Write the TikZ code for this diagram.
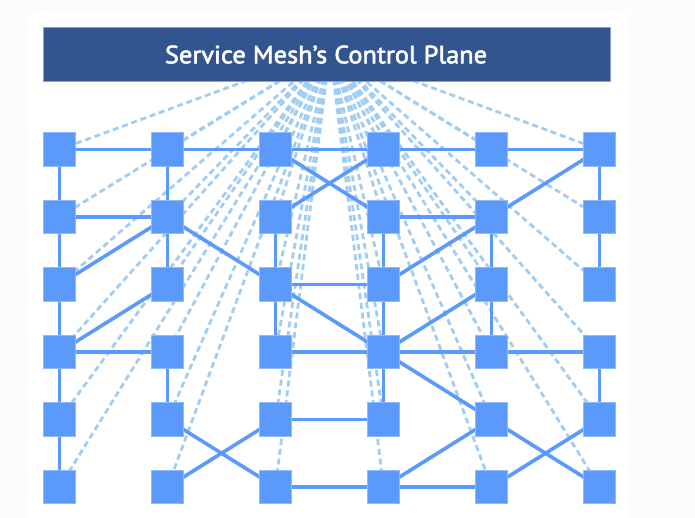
\documentclass[tikz,border=0pt]{standalone}
\usepackage{fontspec}
\setmainfont{PT Sans}
\newfontfamily\cpfont{PT Sans}
\usetikzlibrary{backgrounds}
\pgfdeclarelayer{page}
\pgfsetlayers{page,background,main}
\definecolor{sqblue}{HTML}{5B9AFB}
\definecolor{sqedge}{HTML}{8DB9FF}
\definecolor{dashblue}{HTML}{A2CDF2}
\definecolor{cpblue}{HTML}{32548F}
\definecolor{cpedge}{HTML}{8CA3C9}
\definecolor{pagegray}{HTML}{FCFCFC}
\newcommand{\heavytext}[1]{\special{pdf:literal direct 2 Tr 0.55 w 1 1 1 RG}#1\special{pdf:literal direct 0 Tr}}
\tikzset{
  sqnode/.style={draw=sqedge, line width=0.7pt, fill=sqblue, minimum width=32pt, minimum height=33.5pt, inner sep=0pt},
  link/.style={draw=sqblue, line width=3.6pt},
  ctrl/.style={draw=dashblue, line width=2.8pt, dash pattern=on 6pt off 3.8pt},
  cpbox/.style={draw=cpedge, line width=0.8pt, fill=cpblue, minimum width=567pt, minimum height=54pt, inner sep=0pt},
  cptext/.style={text=white, font=\cpfont\fontsize{25}{30}\selectfont, inner sep=0pt, anchor=base}
}
\begin{document}
\begin{tikzpicture}[x=1pt, y=-1pt]
\useasboundingbox (0,0) rectangle (695,518);
\begin{pgfonlayer}{page}
\fill[pagegray] (0,0) rectangle (695,518);
\fill[white] (30,14) rectangle (630,518);
\end{pgfonlayer}
% squares
\foreach \i in {1,...,6} {
  \foreach \j in {1,...,6} {
    \node[sqnode] (n\i\j) at ({59.5+108*(\i-1)},{149.5+67.5*(\j-1)}) {};
  }
}
\coordinate (cp) at (330,50);
\begin{pgfonlayer}{background}
  \foreach \i in {1,...,6} {
    \foreach \j in {1,...,6} {
      \draw[ctrl] (cp) -- (n\i\j.center);
    }
  }
  % top row
  \draw[link] (n11.center) -- (n21.center) -- (n31.center) -- (n41.center) -- (n51.center) -- (n61.center);
  % verticals
  \draw[link] (n11.center) -- (n12.center) -- (n13.center) -- (n14.center) -- (n15.center) -- (n16.center);
  \foreach \a/\b in {21/22, 22/23, 24/25, 32/33, 33/34, 42/43, 43/44, 44/45, 52/53, 53/54, 61/62, 62/63, 64/65} {
    \draw[link] (n\a.center) -- (n\b.center);
  }
  % horizontals
  \foreach \a/\b in {12/22, 42/52, 33/43, 14/24, 34/44, 44/54, 54/64, 35/45, 36/46, 46/56} {
    \draw[link] (n\a.center) -- (n\b.center);
  }
  % diagonals
  \foreach \a/\b in {31/42, 32/41, 52/61, 13/22, 14/23, 22/33, 43/52, 33/44, 44/53, 44/55, 25/36, 26/35, 46/55, 55/66, 56/65} {
    \draw[link] (n\a.center) -- (n\b.center);
  }
\end{pgfonlayer}
\node[cpbox] (cpb) at (326.8,54.3) {};
\node[cptext] (cpt) at (326,63.3) {\scalebox{1.055}[1]{\heavytext{Service Mesh’s Control Plane}}};
\end{tikzpicture}
\end{document}
